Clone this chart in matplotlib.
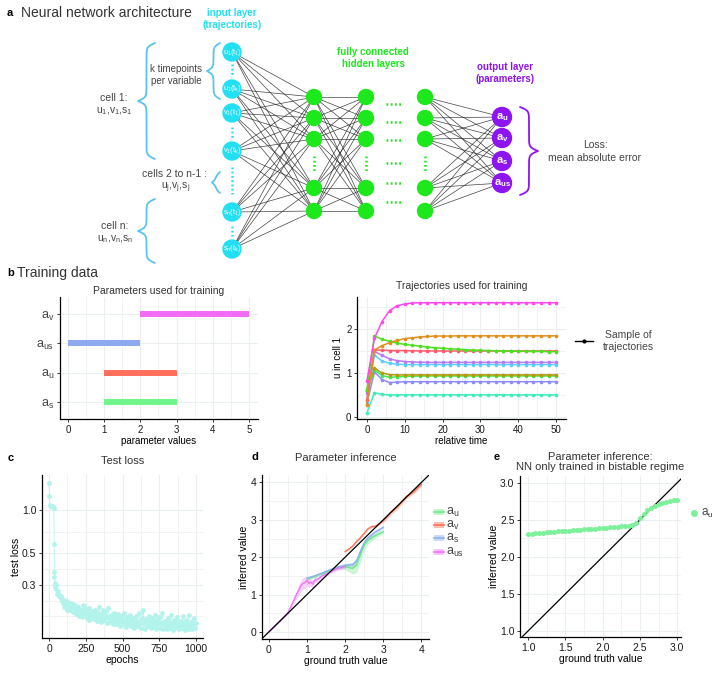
import numpy as np
import matplotlib
matplotlib.use("Agg")
import matplotlib.pyplot as plt
from matplotlib.patches import Circle, Rectangle
from matplotlib.ticker import NullFormatter

plt.rcParams['font.family'] = ['Liberation Sans', 'DejaVu Sans']
plt.rcParams['mathtext.default'] = 'regular'

W, H = 726, 675

# ---------------- data ----------------
# b (left): parameter ranges used for training
param_names = ['a$_s$', 'a$_u$', 'a$_{us}$', 'a$_v$']
param_lo = [1, 1, 0, 2]
param_hi = [3, 3, 2, 5]
param_colors = ['#6FF58C', '#FF6F5E', '#8EA9EE', '#F26CF5']

# b (right): sample trajectories, u in cell 1
traj_time = [0, 2, 4, 6, 8, 10, 12, 14, 16, 18, 20, 22, 24, 26, 28, 30,
             32, 34, 36, 38, 40, 42, 44, 46, 48, 50]
traj_magenta = [0.81, 1.79, 2.17, 2.42, 2.53, 2.57, 2.59, 2.60, 2.60, 2.60, 2.60, 2.60, 2.60,
                2.60, 2.60, 2.60, 2.60, 2.60, 2.60, 2.60, 2.60, 2.60, 2.60, 2.60, 2.60, 2.60]
traj_orange = [0.28, 1.52, 1.62, 1.69, 1.74, 1.78, 1.80, 1.82, 1.83, 1.84, 1.84, 1.84, 1.845,
               1.845, 1.845, 1.845, 1.845, 1.845, 1.845, 1.845, 1.845, 1.845, 1.845, 1.845, 1.845, 1.845]
traj_green = [0.62, 1.84, 1.77, 1.72, 1.68, 1.65, 1.63, 1.61, 1.59, 1.575, 1.56, 1.55, 1.54,
              1.53, 1.52, 1.515, 1.51, 1.505, 1.50, 1.50, 1.495, 1.49, 1.49, 1.49, 1.485, 1.485]
traj_red = [0.39, 1.52, 1.52, 1.51, 1.51, 1.51, 1.505, 1.50, 1.50, 1.50, 1.50, 1.50, 1.50,
            1.50, 1.50, 1.50, 1.50, 1.50, 1.50, 1.50, 1.50, 1.50, 1.50, 1.50, 1.50, 1.50]
traj_purple = [0.55, 1.49, 1.40, 1.32, 1.28, 1.26, 1.25, 1.245, 1.24, 1.24, 1.24, 1.24, 1.24,
               1.24, 1.24, 1.24, 1.24, 1.24, 1.24, 1.24, 1.24, 1.24, 1.24, 1.24, 1.24, 1.24]
traj_skyblue = [0.35, 1.41, 1.27, 1.22, 1.20, 1.19, 1.19, 1.19, 1.19, 1.19, 1.19, 1.19, 1.19,
                1.19, 1.19, 1.19, 1.19, 1.19, 1.19, 1.19, 1.19, 1.19, 1.19, 1.19, 1.19, 1.19]
traj_olive = [0.60, 1.11, 1.00, 0.96, 0.955, 0.955, 0.955, 0.955, 0.955, 0.955, 0.955, 0.955, 0.955,
              0.955, 0.955, 0.955, 0.955, 0.955, 0.955, 0.955, 0.955, 0.955, 0.955, 0.955, 0.955, 0.955]
traj_lime = [0.58, 1.07, 0.94, 0.90, 0.91, 0.92, 0.925, 0.93, 0.93, 0.93, 0.93, 0.93, 0.93,
             0.93, 0.93, 0.93, 0.93, 0.93, 0.93, 0.93, 0.93, 0.93, 0.93, 0.93, 0.93, 0.93]
traj_violet = [0.30, 1.02, 0.85, 0.78, 0.79, 0.80, 0.80, 0.80, 0.80, 0.80, 0.80, 0.80, 0.80,
               0.80, 0.80, 0.80, 0.80, 0.80, 0.80, 0.80, 0.80, 0.80, 0.80, 0.80, 0.80, 0.80]
traj_teal = [0.08, 0.55, 0.51, 0.50, 0.50, 0.50, 0.50, 0.50, 0.50, 0.50, 0.50, 0.50, 0.50,
             0.50, 0.50, 0.50, 0.50, 0.50, 0.50, 0.50, 0.50, 0.50, 0.50, 0.50, 0.50, 0.50]
trajectories = [traj_teal, traj_violet, traj_lime, traj_olive, traj_skyblue, traj_purple,
                traj_red, traj_green, traj_orange, traj_magenta]
traj_colors = ['#3DEEB8', '#8F8CFA', '#3CEB4E', '#B59A10', '#5CCFFF', '#B67CF0',
               '#FF5A6E', '#4EE020', '#E0901A', '#FF48EE']

# c: test loss per epoch
epochs_early = [0, 3, 6, 10, 15, 20, 25, 30, 33, 35, 36, 37, 38, 40, 43, 46]
loss_early = [1.55, 1.25, 1.08, 1.07, 1.06, 1.06, 1.05, 1.05, 1.04, 0.58, 0.37, 0.34,
              0.31, 0.30, 0.29, 0.30]
epochs_late = np.arange(50, 1001, 10)
loss_late = [0.28, 0.27, 0.255, 0.25, 0.24,
             0.235, 0.22, 0.23, 0.215, 0.225, 0.205, 0.22, 0.20, 0.215, 0.195,
             0.21, 0.19, 0.20, 0.215, 0.185, 0.20, 0.19, 0.205, 0.18, 0.195,
             0.185, 0.20, 0.175, 0.19, 0.21, 0.18, 0.19, 0.172, 0.195, 0.18,
             0.205, 0.175, 0.185, 0.17, 0.19, 0.178, 0.165, 0.188, 0.172, 0.182,
             0.17, 0.19, 0.165, 0.178, 0.16, 0.185, 0.17, 0.175, 0.158, 0.18,
             0.168, 0.19, 0.162, 0.175, 0.20, 0.165, 0.172, 0.158, 0.18, 0.166,
             0.175, 0.16, 0.185, 0.155, 0.17, 0.178, 0.162, 0.19, 0.158, 0.168,
             0.16, 0.175, 0.155, 0.185, 0.165, 0.17, 0.152, 0.178, 0.162, 0.168,
             0.158, 0.18, 0.155, 0.17, 0.163, 0.185, 0.152, 0.168, 0.16, 0.175,
             0.162]
epochs_mid = np.arange(55, 1000, 10)
loss_mid = [0.26, 0.25, 0.245, 0.23, 0.225,
            0.21, 0.228, 0.20, 0.212, 0.198, 0.218, 0.192, 0.205, 0.188, 0.20,
            0.182, 0.198, 0.178, 0.192, 0.205, 0.175, 0.188, 0.17, 0.185, 0.178,
            0.172, 0.19, 0.168, 0.182, 0.175, 0.165, 0.20, 0.17, 0.178, 0.162,
            0.175, 0.165, 0.18, 0.16, 0.172, 0.158, 0.178, 0.165, 0.155, 0.17,
            0.158, 0.168, 0.152, 0.175, 0.162, 0.155, 0.17, 0.15, 0.165, 0.158,
            0.155, 0.165, 0.15, 0.172, 0.158, 0.148, 0.168, 0.155, 0.162, 0.15,
            0.152, 0.165, 0.148, 0.16, 0.172, 0.15, 0.158, 0.146, 0.165, 0.155,
            0.148, 0.162, 0.15, 0.158, 0.145, 0.168, 0.152, 0.16, 0.147, 0.155,
            0.15, 0.158, 0.145, 0.165, 0.152, 0.148, 0.16, 0.146, 0.155, 0.15]

# d: parameter inference (mean and ribbon half-width)
au_x = [1.0, 1.1, 1.2, 1.3, 1.4, 1.5, 1.6, 1.7, 1.8, 1.9, 2.0, 2.1, 2.2, 2.25, 2.3, 2.35,
        2.4, 2.45, 2.5, 2.6, 2.7, 2.8, 2.9, 3.0]
au_y = [1.42, 1.45, 1.48, 1.52, 1.56, 1.60, 1.64, 1.68, 1.72, 1.74, 1.75, 1.72, 1.70, 1.75,
        1.78, 1.95, 2.05, 2.20, 2.32, 2.45, 2.52, 2.58, 2.63, 2.68]
au_w = [0.03, 0.03, 0.04, 0.04, 0.05, 0.05, 0.05, 0.05, 0.05, 0.06, 0.08, 0.12, 0.15, 0.18,
        0.20, 0.20, 0.20, 0.18, 0.15, 0.10, 0.08, 0.06, 0.06, 0.05]
av_x = [2.0, 2.1, 2.2, 2.3, 2.4, 2.5, 2.6, 2.7, 2.8, 2.9, 3.0, 3.1, 3.2, 3.3, 3.4, 3.5,
        3.6, 3.7, 3.8, 3.9, 4.0]
av_y = [2.15, 2.22, 2.30, 2.42, 2.52, 2.64, 2.76, 2.82, 2.83, 2.90, 2.98, 3.08, 3.20, 3.28,
        3.38, 3.50, 3.62, 3.68, 3.75, 3.85, 3.95]
av_w = [0.02, 0.02, 0.02, 0.02, 0.02, 0.02, 0.02, 0.03, 0.03, 0.04, 0.05, 0.05, 0.06, 0.06,
        0.06, 0.06, 0.06, 0.05, 0.05, 0.05, 0.05]
as_x = [1.0, 1.2, 1.4, 1.6, 1.8, 2.0, 2.2, 2.3, 2.4, 2.5, 2.6, 2.8, 3.0]
as_y = [1.44, 1.50, 1.58, 1.66, 1.73, 1.78, 1.80, 1.90, 2.15, 2.38, 2.52, 2.68, 2.80]
as_w = [0.03, 0.03, 0.03, 0.03, 0.04, 0.05, 0.06, 0.06, 0.06, 0.06, 0.05, 0.05, 0.05]
aus_x = [0.0, 0.1, 0.2, 0.3, 0.4, 0.5, 0.6, 0.7, 0.8, 0.85, 0.9, 0.95, 1.0, 1.05, 1.1, 1.15,
         1.2, 1.3, 1.4, 1.5, 1.6, 1.7, 1.8, 1.9, 2.0]
aus_y = [0.0, 0.1, 0.2, 0.3, 0.4, 0.52, 0.72, 0.95, 1.15, 1.25, 1.30, 1.32, 1.38, 1.30, 1.33,
         1.28, 1.38, 1.42, 1.50, 1.55, 1.60, 1.65, 1.70, 1.72, 1.75]
aus_w = [0.02, 0.02, 0.02, 0.03, 0.03, 0.04, 0.06, 0.10, 0.14, 0.15, 0.15, 0.15, 0.12, 0.12,
         0.10, 0.10, 0.08, 0.06, 0.05, 0.05, 0.05, 0.05, 0.05, 0.05, 0.05]
inf_labels = ['a$_u$', 'a$_v$', 'a$_s$', 'a$_{us}$']
inf_colors = ['#6EE88B', '#FF7058', '#8FB0F2', '#EC78F5']

# e: inference when trained only in bistable regime
bist_truth = [1.00, 1.05, 1.10, 1.15, 1.20, 1.25, 1.30, 1.35, 1.40, 1.45, 1.50, 1.55, 1.60, 1.65,
              1.70, 1.75, 1.80, 1.85, 1.90, 1.95, 2.00, 2.05, 2.10, 2.15, 2.20, 2.25, 2.30, 2.35,
              2.40, 2.45, 2.50, 2.55, 2.60, 2.65, 2.70, 2.75, 2.80, 2.85, 2.90, 2.95, 3.00]
bist_inferred = [2.310, 2.314, 2.318, 2.322, 2.326, 2.330, 2.334, 2.338, 2.342, 2.346, 2.350,
                 2.354, 2.358, 2.362, 2.366, 2.370, 2.374, 2.378, 2.382, 2.386, 2.390, 2.394,
                 2.398, 2.402, 2.406, 2.410, 2.414, 2.418, 2.425, 2.46, 2.52, 2.58, 2.63, 2.66,
                 2.69, 2.71, 2.725, 2.74, 2.75, 2.76, 2.77]

# ---------------- helpers ----------------
GRID = '#EBEFEF'
TXT = '#333333'


def box(l, t, r, b):
    return [l / W, 1 - b / H, (r - l) / W, (b - t) / H]


def style(ax, xmaj, xmin_, ymaj, ymin_, size=7):
    ax.set_xticks(xmaj)
    ax.set_xticks(xmin_, minor=True)
    ax.set_yticks(ymaj)
    ax.set_yticks(ymin_, minor=True)
    ax.grid(which='major', color=GRID, lw=0.8)
    ax.grid(which='minor', color=GRID, lw=0.5)
    ax.tick_params(which='minor', length=0)
    ax.tick_params(which='major', length=2.5, width=0.6, labelsize=size, pad=1.5,
                   colors='#1a1a1a')
    for s in ('top', 'right'):
        ax.spines[s].set_visible(False)
    for s in ('left', 'bottom'):
        ax.spines[s].set_linewidth(0.9)
    ax.set_axisbelow(True)


def brace(ax, x_tip, x_end, y0, y1, color, lw=1.3):
    t = np.linspace(y0, y1, 201)
    half = t[:101]
    f = 1 / (1 + np.exp(-0.55 * (half - half[0]))) + 1 / (1 + np.exp(-0.55 * (half - half[-1])))
    g = np.concatenate([f, f[-2::-1]]) - 0.5
    ax.plot(x_end + (x_tip - x_end) * g, t, color=color, lw=lw, solid_capstyle='round')


fig = plt.figure(figsize=(7.26, 6.75), dpi=100)
ax0 = fig.add_axes([0, 0, 1, 1])
ax0.set_xlim(0, W)
ax0.set_ylim(H, 0)
ax0.axis('off')

# ---------------- a: network diagram ----------------
CYAN, BRACE_BLUE = '#22E0F2', '#5CC3F0'
GREEN, PURPLE = '#1CE81C', '#8E14F0'

in_x, in_y = 232, [52, 89, 113, 151, 212, 249]
in_labels = ['u$_1$(t$_1$)', 'u$_1$(t$_k$)', 'v$_1$(t$_1$)', 'v$_1$(t$_k$)',
             's$_n$(t$_1$)', 's$_n$(t$_k$)']
hid_x = [314, 366, 425]
hid_y = [97, 118, 139, 188, 211]
out_x, out_y = 502, [117, 138, 161, 183]
out_labels = ['a$_u$', 'a$_v$', 'a$_s$', 'a$_{us}$']

edge_kw = dict(color='#222222', lw=0.5, alpha=0.85, zorder=1)
for yi in in_y:
    for yh in hid_y:
        ax0.plot([in_x, hid_x[0]], [yi, yh], **edge_kw)
for ya in hid_y:
    for yb in hid_y:
        ax0.plot([hid_x[0], hid_x[1]], [ya, yb], **edge_kw)
for yh in hid_y:
    for yo in out_y:
        ax0.plot([hid_x[2], out_x], [yh, yo], **edge_kw)

for yi, lab in zip(in_y, in_labels):
    ax0.add_patch(Circle((in_x, yi), 9, color=CYAN, zorder=3))
    ax0.text(in_x, yi, lab, color='white', fontsize=5.3, ha='center', va='center', zorder=4)
for hx in hid_x:
    for yh in hid_y:
        ax0.add_patch(Circle((hx, yh), 7.5, color=GREEN, zorder=3))
for yo, lab in zip(out_y, out_labels):
    ax0.add_patch(Circle((out_x, yo), 9.5, color=PURPLE, zorder=3))
    ax0.text(out_x, yo, lab, color='white', fontsize=8, fontweight='bold',
             ha='center', va='center', zorder=4)

dot_kw = dict(lw=1.8, ls=(0, (0.7, 1.0)))
for y0, y1 in [(64, 77), (127, 139), (167, 194), (226, 236)]:
    ax0.plot([in_x, in_x], [y0, y1], color=CYAN, **dot_kw)
for hx in hid_x:
    ax0.plot([hx, hx], [156, 172], color=GREEN, **dot_kw)
for yd in [104, 122, 140, 163, 183, 202]:
    ax0.plot([386, 402], [yd, yd], color=GREEN, **dot_kw)

brace(ax0, 207, 220, 43, 99, BRACE_BLUE)
brace(ax0, 138, 155, 43, 159, BRACE_BLUE)
brace(ax0, 212, 220, 172, 193, BRACE_BLUE)
brace(ax0, 138, 155, 199, 263, BRACE_BLUE)
brace(ax0, 538, 520, 107, 195, PURPLE)

ax0.text(7, 13, 'a', fontsize=8, fontweight='bold', va='center')
ax0.text(21, 13, 'Neural network architecture', fontsize=10, color=TXT, va='center')
ax0.text(232, 19, 'input layer\n(trajectories)', color=CYAN, fontsize=7, fontweight='bold',
         ha='center', va='center', linespacing=1.2)
ax0.text(373, 58, 'fully connected\nhidden layers', color=GREEN, fontsize=7, fontweight='bold',
         ha='center', va='center', linespacing=1.2)
ax0.text(505, 73, 'output layer\n(parameters)', color=PURPLE, fontsize=7, fontweight='bold',
         ha='center', va='center', linespacing=1.2)
ax0.text(176, 75, 'k timepoints\nper variable', fontsize=7, color='#444444',
         ha='center', va='center', linespacing=1.2)
ax0.text(114, 98, 'cell 1:', fontsize=7.5, color='#444444', ha='center', va='center')
ax0.text(114, 111, 'u$_1$,v$_1$,s$_1$', fontsize=7.5, color='#444444', ha='center', va='center')
ax0.text(174, 174, 'cells 2 to n-1 :', fontsize=7.5, color='#444444', ha='center', va='center')
ax0.text(176, 188, 'u$_j$,v$_j$,s$_j$', fontsize=7.5, color='#444444', ha='center', va='center')
ax0.text(115, 226, 'cell n:', fontsize=7.5, color='#444444', ha='center', va='center')
ax0.text(115, 239, 'u$_n$,v$_n$,s$_n$', fontsize=7.5, color='#444444', ha='center', va='center')
ax0.text(595, 145, 'Loss:', fontsize=7.5, color='#444444', ha='center', va='center')
ax0.text(595, 158, 'mean absolute error', fontsize=7.5, color='#444444', ha='center', va='center')

# ---------------- b: training data ----------------
ax0.text(7, 273, 'b', fontsize=8, fontweight='bold', va='center')
ax0.text(17, 273, 'Training data', fontsize=10, color=TXT, va='center')

axb1 = fig.add_axes(box(60, 297, 258, 419))
ypos = np.arange(1, len(param_names) + 1)
axb1.hlines(ypos, param_lo, param_hi, colors=param_colors, lw=4.3)
axb1.set_xlim(-0.22, 5.25)
axb1.set_ylim(0.42, 4.58)
style(axb1, [0, 1, 2, 3, 4, 5], [0.5, 1.5, 2.5, 3.5, 4.5], ypos, [])
axb1.set_yticklabels(param_names, fontsize=9, color='#444444')
axb1.set_xlabel('parameter values', fontsize=7, labelpad=1)
axb1.set_title('Parameters used for training', fontsize=7.5, color=TXT, pad=2)

axb2 = fig.add_axes(box(357, 297, 566, 419))
for vals, col in zip(trajectories, traj_colors):
    axb2.plot(traj_time, vals, '-o', color=col, lw=1.1, ms=1.6)
axb2.set_xlim(-2.6, 52.6)
axb2.set_ylim(-0.05, 2.73)
style(axb2, [0, 10, 20, 30, 40, 50], [5, 15, 25, 35, 45], [0, 1, 2], [0.5, 1.5, 2.5])
axb2.set_xlabel('relative time', fontsize=7, labelpad=1)
axb2.set_ylabel('u in cell 1', fontsize=7, labelpad=2)
axb2.set_title('Trajectories used for training', fontsize=7.5, color=TXT, pad=6)

ax0.plot([575, 593], [341, 341], color='black', lw=1)
ax0.plot([584], [341], 'o', color='black', ms=2)
ax0.text(628, 341, 'Sample of\ntrajectories', fontsize=7.5, color='#444444',
         ha='center', va='center', linespacing=1.2)

# ---------------- c: test loss ----------------
ax0.text(8, 458, 'c', fontsize=8, fontweight='bold', va='center')
axc = fig.add_axes(box(42, 475, 203, 638))
ep_line = np.concatenate([epochs_early, epochs_late])
loss_line = np.concatenate([loss_early, loss_late])
axc.plot(ep_line, loss_line, color='#B2F3EC', lw=0.6)
axc.scatter(ep_line, loss_line, s=12, color='#B2F3EC', lw=0)
axc.scatter(epochs_mid, loss_mid, s=12, color='#B2F3EC', lw=0)
axc.set_yscale('log')
axc.set_xlim(-48, 1048)
axc.set_ylim(0.127, 1.76)
style(axc, [0, 250, 500, 750, 1000], [125, 375, 625, 875],
      [0.3, 0.5, 1.0], [0.18, 0.232, 0.387, 0.707], size=7.5)
axc.yaxis.set_minor_formatter(NullFormatter())
axc.set_yticklabels(['0.3', '0.5', '1.0'])
axc.set_xlabel('epochs', fontsize=7.5, labelpad=1)
axc.set_ylabel('test loss', fontsize=7.5, labelpad=1)
axc.set_title('Test loss', fontsize=8, color=TXT, pad=8)

# ---------------- d: parameter inference ----------------
ax0.text(252, 457, 'd', fontsize=8, fontweight='bold', va='center')
axd = fig.add_axes(box(262, 475, 429, 639))
series = [(au_x, au_y, au_w), (av_x, av_y, av_w), (as_x, as_y, as_w), (aus_x, aus_y, aus_w)]
for (sx, sy, sw), col in zip(series, inf_colors):
    sx, sy, sw = np.array(sx), np.array(sy), np.array(sw)
    axd.fill_between(sx, sy - sw, sy + sw, color=col, alpha=0.35, lw=0)
    axd.plot(sx, sy, color=col, lw=1)
axd.axline((0, 0), slope=1, color='black', lw=0.9)
axd.set_xlim(-0.18, 4.2)
axd.set_ylim(-0.19, 4.2)
style(axd, [0, 1, 2, 3, 4], [0.5, 1.5, 2.5, 3.5], [0, 1, 2, 3, 4], [0.5, 1.5, 2.5, 3.5],
      size=7.5)
axd.set_xlabel('ground truth value', fontsize=7.5, labelpad=1)
axd.set_ylabel('inferred value', fontsize=7.5, labelpad=1)
axd.set_title('Parameter inference', fontsize=8, color=TXT, pad=10)

for i, (lab, col) in enumerate(zip(inf_labels, inf_colors)):
    yl = [512, 525, 538, 552][i]
    ax0.add_patch(Rectangle((434, yl - 3), 10, 6, color=col, alpha=0.45, lw=0))
    ax0.plot([434, 444], [yl, yl], color=col, lw=1.2)
    ax0.text(446, yl, lab, fontsize=9, color='#444444', va='center')

# ---------------- e: bistable-only training ----------------
ax0.text(494, 457, 'e', fontsize=8, fontweight='bold', va='center')
axe = fig.add_axes(box(520, 476, 681, 637))
axe.scatter(bist_truth, bist_inferred, s=13, color='#7DF09A', lw=0, zorder=3)
axe.axline((1, 1), slope=1, color='black', lw=0.9)
axe.set_xlim(0.893, 3.05)
axe.set_ylim(0.92, 3.09)
style(axe, [1.0, 1.5, 2.0, 2.5, 3.0], [1.25, 1.75, 2.25, 2.75],
      [1.0, 1.5, 2.0, 2.5, 3.0], [1.25, 1.75, 2.25, 2.75], size=7.5)
axe.set_xticklabels(['1.0', '1.5', '2.0', '2.5', '3.0'])
axe.set_yticklabels(['1.0', '1.5', '2.0', '2.5', '3.0'])
axe.set_xlabel('ground truth value', fontsize=7.5, labelpad=1)
axe.set_ylabel('inferred value', fontsize=7.5, labelpad=1)
axe.set_title('Parameter inference:\nNN only trained in bistable regime', fontsize=8,
              color=TXT, pad=4, linespacing=1.1)
ax0.plot([694], [513], 'o', color='#7DF09A', ms=4)
ax0.text(701, 513, 'a$_u$', fontsize=8.5, color='#444444', va='center')

fig.savefig('out.png', dpi=100)
